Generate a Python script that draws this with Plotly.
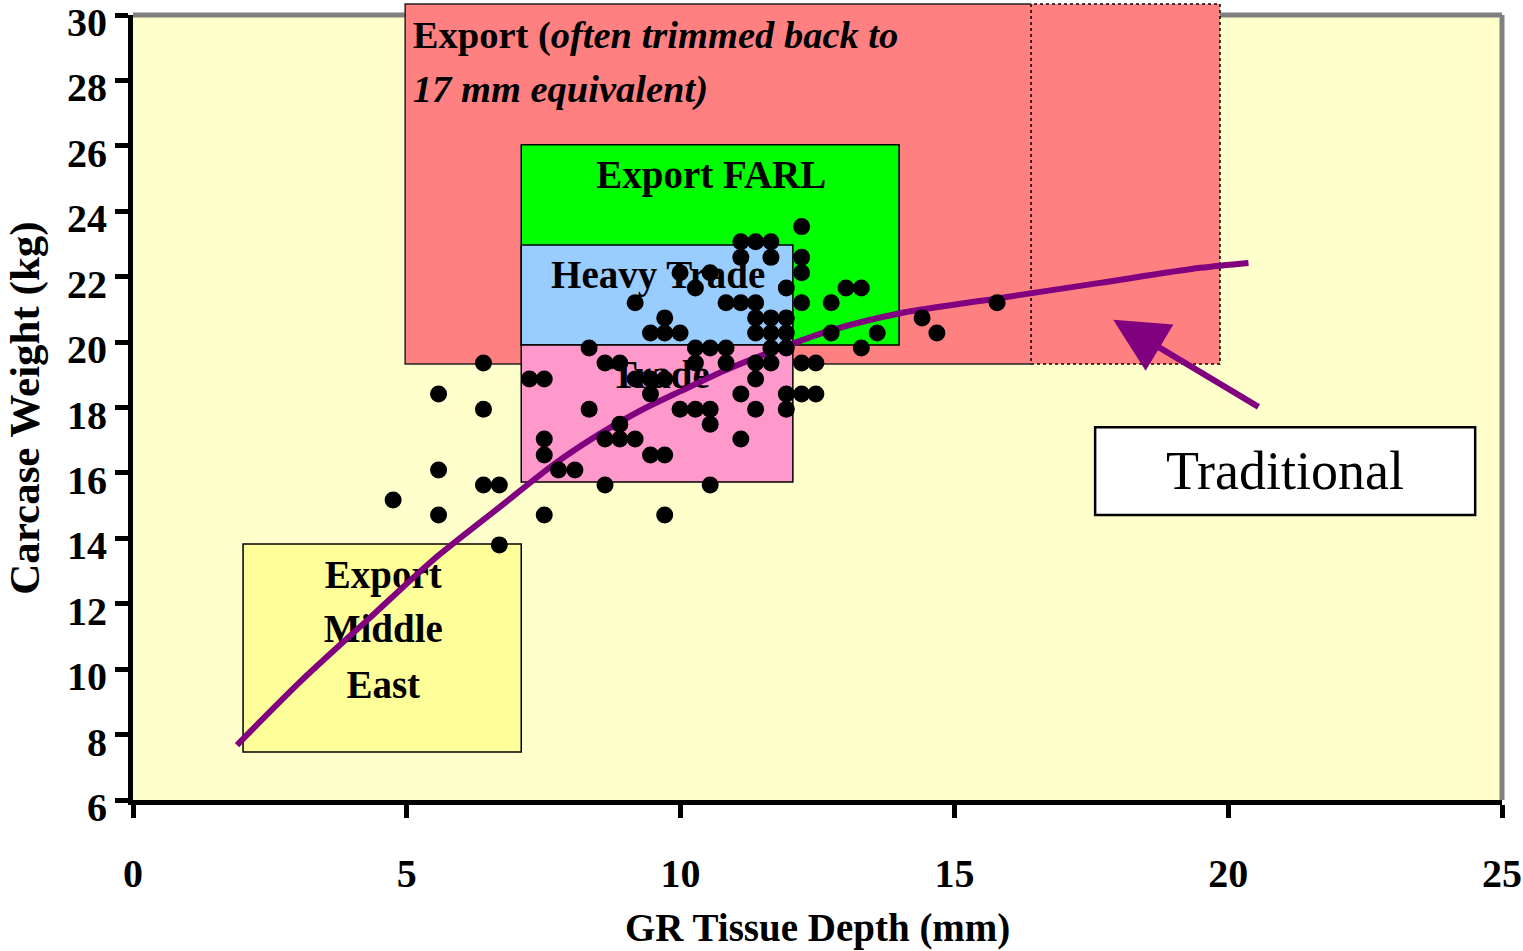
import plotly.graph_objects as go

# ---------------- data ----------------
X_RANGE = [0, 25]
Y_RANGE = [6, 30]
x_ticks = [0, 5, 10, 15, 20, 25]
y_ticks = [6, 8, 10, 12, 14, 16, 18, 20, 22, 24, 26, 28, 30]

# scatter observations (GR tissue depth mm, carcase weight kg)
dot_x = [12.21,
         11.10, 11.37, 11.65,
         11.10, 11.65, 12.21,
         9.99, 10.54, 12.21,
         10.27, 11.93, 13.02, 13.30,
         9.17, 10.83, 11.10, 11.37, 12.21, 12.75, 15.78,
         9.71, 11.37, 11.65, 11.93, 14.41,
         9.45, 9.71, 9.99, 11.37, 11.65, 11.93, 12.75, 13.59, 14.68,
         8.33, 10.27, 10.54, 10.83, 11.65, 11.93, 13.30,
         6.40, 8.62, 8.89, 10.27, 10.83, 11.37, 11.65, 12.21, 12.47,
         7.24, 7.51, 9.17, 9.45, 9.71, 11.37,
         5.58, 9.45, 11.10, 11.93, 12.21, 12.47,
         6.40, 8.33, 9.99, 10.27, 10.54, 11.37, 11.93,
         8.89, 10.54,
         7.51, 8.62, 8.89, 9.17, 11.10,
         7.51, 9.45, 9.71,
         5.58, 7.77, 8.07,
         6.40, 6.69, 8.62, 10.54,
         4.75,
         5.58, 7.51, 9.71,
         6.69]
dot_y = [23.53,
         23.07, 23.07, 23.07,
         22.59, 22.59, 22.59,
         22.12, 22.12, 22.12,
         21.65, 21.65, 21.65, 21.65,
         21.20, 21.20, 21.20, 21.20, 21.20, 21.20, 21.20,
         20.74, 20.74, 20.74, 20.74, 20.74,
         20.28, 20.28, 20.28, 20.28, 20.28, 20.28, 20.28, 20.28, 20.28,
         19.82, 19.82, 19.82, 19.82, 19.82, 19.82, 19.82,
         19.36, 19.36, 19.36, 19.36, 19.36, 19.36, 19.36, 19.36, 19.36,
         18.87, 18.87, 18.87, 18.87, 18.87, 18.87,
         18.41, 18.41, 18.41, 18.41, 18.41, 18.41,
         17.95, 17.95, 17.95, 17.95, 17.95, 17.95, 17.95,
         17.49, 17.49,
         17.04, 17.04, 17.04, 17.04, 17.04,
         16.55, 16.55, 16.55,
         16.09, 16.09, 16.09,
         15.63, 15.63, 15.63, 15.63,
         15.17,
         14.71, 14.71, 14.71,
         13.80]

# "Traditional" curve
curve_x = [1.90, 3.05, 4.30, 5.48, 6.70, 7.71, 8.53, 9.26, 10.00, 10.90,
           12.06, 12.73, 14.01, 15.84, 17.66, 19.49, 20.37]
curve_y = [7.68, 9.61, 11.53, 13.34, 14.96, 16.29, 17.20, 17.90, 18.50, 19.20,
           19.96, 20.35, 20.88, 21.35, 21.81, 22.27, 22.42]

# market specification boxes
box_names = ["Export FARL", "Heavy Trade", "Trade", "Export Middle East"]
box_x0 = [7.09, 7.09, 7.09, 2.01]
box_x1 = [13.99, 12.05, 12.05, 7.09]
box_y0 = [19.91, 19.91, 15.72, 7.47]
box_y1 = [26.03, 22.97, 19.91, 13.83]
box_colors = ["#00FF00", "#99CCFF", "#FF99CC", "#FFFF99"]

# export box (extends above the plot) and its dotted extension
export_x = [4.97, 16.40, 19.85]
export_y = [19.33, 30.34]

# text labels
label_text = ["<b>Export FARL</b>", "<b>Heavy Trade</b>", "<b>Trade</b>",
              "<b>Export</b>", "<b>Middle</b>", "<b>East</b>"]
label_x = [10.56, 9.59, 9.63, 4.57, 4.57, 4.57]
label_y = [25.02, 21.96, 18.90, 12.79, 11.14, 9.43]

export_label_text = ["<b>Export (<i>often trimmed back to</i></b>",
                     "<b><i>17 mm equivalent)</i></b>"]
export_label_x = [5.11, 5.11]
export_label_y = [29.30, 27.62]

trad_box_x = [17.57, 24.51]
trad_box_y = [14.71, 17.40]
arrow_tip = [17.90, 20.68]
arrow_tail = [20.58, 17.99]

SERIF = "Liberation Serif, Times New Roman, serif"


def ypaper(v):
    return (v - Y_RANGE[0]) / (Y_RANGE[1] - Y_RANGE[0])


shapes = []
# gray frame (top and right)
shapes.append(dict(type="line", xref="paper", yref="paper", x0=0, x1=1.0, y0=1, y1=1,
                   line=dict(color="#808080", width=5), layer="below"))
shapes.append(dict(type="line", xref="paper", yref="paper", x0=1, x1=1, y0=0, y1=1.0,
                   line=dict(color="#808080", width=5), layer="below"))
# export boxes
shapes.append(dict(type="rect", xref="x", yref="paper", x0=export_x[0], x1=export_x[1],
                   y0=ypaper(export_y[0]), y1=ypaper(export_y[1]),
                   fillcolor="#FF8080", line=dict(width=0), layer="below"))
shapes.append(dict(type="rect", xref="x", yref="paper", x0=export_x[1], x1=export_x[2],
                   y0=ypaper(export_y[0]), y1=ypaper(export_y[1]),
                   fillcolor="#FF8080", line=dict(color="black", width=1.5, dash="dot"),
                   layer="below"))
shapes.append(dict(type="path", xref="x", yref="paper",
                   path="M %f,%f L %f,%f L %f,%f L %f,%f" % (
                       export_x[1], ypaper(export_y[0]), export_x[0], ypaper(export_y[0]),
                       export_x[0], ypaper(export_y[1]), export_x[1], ypaper(export_y[1])),
                   line=dict(color="#222222", width=1.5), layer="below"))
for i in range(len(box_names)):
    shapes.append(dict(type="rect", xref="x", yref="y", x0=box_x0[i], x1=box_x1[i],
                       y0=box_y0[i], y1=box_y1[i], fillcolor=box_colors[i],
                       line=dict(color="black", width=1.5), layer="below"))
shapes.append(dict(type="rect", xref="x", yref="y", x0=trad_box_x[0], x1=trad_box_x[1],
                   y0=trad_box_y[0], y1=trad_box_y[1], fillcolor="white",
                   line=dict(color="black", width=2.5), layer="below"))

fig = go.Figure()

fig.add_trace(go.Scatter(x=label_x, y=label_y, mode="text", text=label_text,
                         textfont=dict(family=SERIF, size=39, color="black"),
                         cliponaxis=False, hoverinfo="skip", showlegend=False))
fig.add_trace(go.Scatter(x=export_label_x, y=export_label_y, mode="text",
                         text=export_label_text, textposition="middle right",
                         textfont=dict(family=SERIF, size=38.5, color="black"),
                         cliponaxis=False, hoverinfo="skip", showlegend=False))
fig.add_trace(go.Scatter(x=curve_x, y=curve_y, mode="lines",
                         line=dict(color="#800080", width=6, shape="spline", smoothing=0.8),
                         showlegend=False))
fig.add_trace(go.Scatter(x=dot_x, y=dot_y, mode="markers",
                         marker=dict(color="black", size=17, line=dict(width=0)),
                         showlegend=False))

annotations = [
    dict(x=arrow_tip[0], y=arrow_tip[1], ax=arrow_tail[0], ay=arrow_tail[1],
         xref="x", yref="y", axref="x", ayref="y", text="", showarrow=True,
         arrowhead=2, arrowsize=1.8, arrowwidth=6, arrowcolor="#800080"),
    dict(x=(trad_box_x[0] + trad_box_x[1]) / 2, y=(trad_box_y[0] + trad_box_y[1]) / 2,
         xref="x", yref="y", text="Traditional", showarrow=False,
         font=dict(family=SERIF, size=54, color="black")),
    dict(x=0.5, y=-0.163, xref="paper", yref="paper", showarrow=False,
         text="<b>GR Tissue Depth (mm)</b>", xanchor="center", yanchor="middle",
         font=dict(family=SERIF, size=39, color="black")),
    dict(x=-0.079, y=0.4994, xref="paper", yref="paper", showarrow=False, textangle=-90,
         text="<b>Carcase Weight (kg)</b>", xanchor="center", yanchor="middle",
         font=dict(family=SERIF, size=43, color="black")),
]

fig.update_layout(
    width=1523, height=951,
    margin=dict(l=133, r=21, t=15, b=151),
    paper_bgcolor="white", plot_bgcolor="#FFFFCC",
    shapes=shapes, annotations=annotations,
    showlegend=False,
    xaxis=dict(range=X_RANGE, tickvals=x_ticks, showgrid=False, zeroline=False,
               automargin=False, ticklabeloverflow="allow",
               showline=True, linecolor="black", linewidth=5,
               ticks="outside", ticklen=13, tickwidth=5, tickcolor="black",
               ticklabelstandoff=21,
               tickfont=dict(family=SERIF, size=40, color="black", weight="bold")),
    yaxis=dict(range=Y_RANGE, tickvals=y_ticks, showgrid=False, zeroline=False,
               automargin=False, ticklabeloverflow="allow",
               showline=True, linecolor="black", linewidth=5,
               ticks="outside", ticklen=13, tickwidth=5, tickcolor="black",
               ticklabelstandoff=0, ticklabelshift=7,
               tickfont=dict(family=SERIF, size=40, color="black", weight="bold")),
)

# remove the default 8px page margin so the figure fills the window exactly
fig.write_html("out.html", config={"displayModeBar": False},
               post_script="document.body.style.margin='0px';")
